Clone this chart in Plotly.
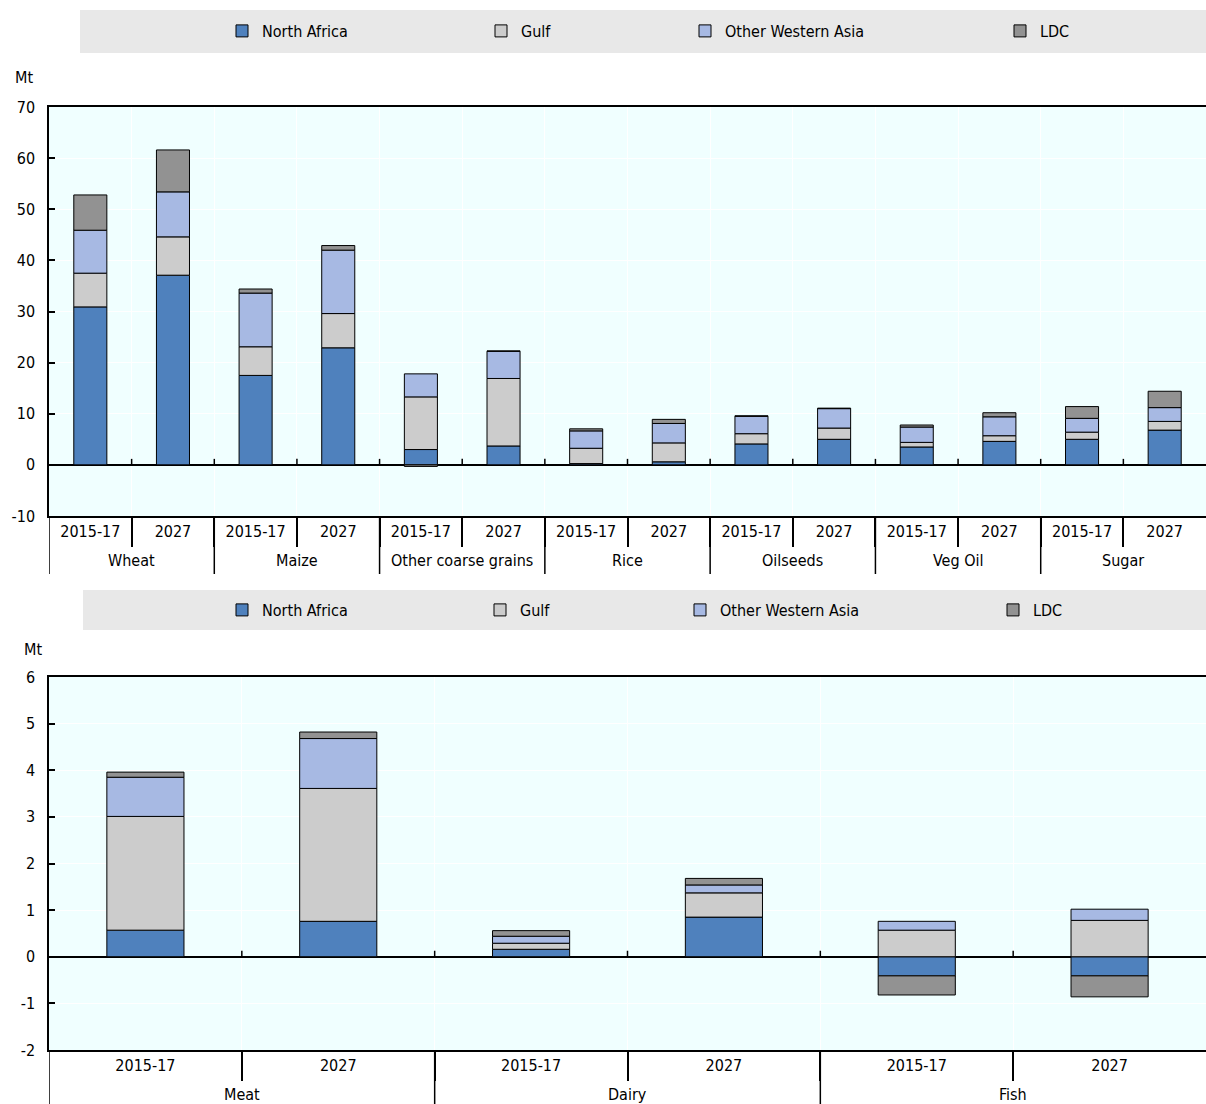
import plotly.graph_objects as go

# Categories
crops = ["Wheat", "Maize", "Other coarse grains", "Rice", "Oilseeds", "Veg Oil", "Sugar"]
animal_products = ["Meat", "Dairy", "Fish"]
periods = ["2015-17", "2027"]
regions = ["North Africa", "Gulf", "Other Western Asia", "LDC"]

# Net imports of crops, Mt (crop by crop: 2015-17, 2027)
crop_north_africa = [30.9, 37.1, 17.5, 22.9, 3.0, 3.7, 0.25, 0.6, 4.1, 5.0, 3.5, 4.6, 5.0, 6.8]
crop_gulf = [6.6, 7.5, 5.6, 6.7, 10.3, 13.2, 3.0, 3.7, 2.0, 2.2, 0.9, 1.1, 1.4, 1.7]
crop_other_wa = [8.4, 8.8, 10.5, 12.4, 4.5, 5.3, 3.4, 3.8, 3.4, 3.8, 3.0, 3.7, 2.7, 2.7]
crop_ldc = [6.9, 8.2, 0.8, 0.9, -0.3, 0.1, 0.4, 0.8, 0.1, 0.1, 0.4, 0.8, 2.3, 3.2]

# Net imports of animal products, Mt
animal_north_africa = [0.57, 0.76, 0.16, 0.85, -0.41, -0.41]
animal_gulf = [2.44, 2.85, 0.13, 0.52, 0.57, 0.78]
animal_other_wa = [0.84, 1.07, 0.15, 0.17, 0.19, 0.24]
animal_ldc = [0.11, 0.14, 0.12, 0.14, -0.41, -0.45]

# Axis ticks
crop_ticks = [-10, 0, 10, 20, 30, 40, 50, 60, 70]
animal_ticks = [-2, -1, 0, 1, 2, 3, 4, 5, 6]

colors = ["#4F81BD", "#CCCCCC", "#A7B9E3", "#929292"]
FONT = "DejaVu Sans Condensed, Liberation Sans Narrow, sans-serif"
FS = 16

W, H = 1206, 1104
L_MARGIN = 49


def py(px):
    """pixel row -> paper y"""
    return (H - px) / H


def pxx(px):
    """pixel column -> paper x"""
    return (px - L_MARGIN) / (W - L_MARGIN)


top_dom = [py(516), py(107)]
bot_dom = [py(1050), py(677)]

fig = go.Figure()

panels = [
    dict(groups=crops, series=[crop_north_africa, crop_gulf, crop_other_wa, crop_ldc],
         xa="x", ya="y", legends=["legend", "legend2", "legend3", "legend4"],
         dom=top_dom, yrange=[-10, 70], yticks=crop_ticks),
    dict(groups=animal_products, series=[animal_north_africa, animal_gulf, animal_other_wa, animal_ldc],
         xa="x2", ya="y2", legends=["legend5", "legend6", "legend7", "legend8"],
         dom=bot_dom, yrange=[-2, 6], yticks=animal_ticks),
]

shapes = []
annotations = []
layout_axes = {}

for p in panels:
    n = len(p["groups"]) * len(periods)
    xpos = list(range(n))
    labels = [per for _ in p["groups"] for per in periods]
    for i, (name, vals) in enumerate(zip(regions, p["series"])):
        fig.add_trace(go.Bar(
            x=xpos, y=vals, name=name, xaxis=p["xa"], yaxis=p["ya"], width=0.4,
            marker=dict(color=colors[i], line=dict(color="black", width=1)),
            legend=p["legends"][i], showlegend=True,
        ))

    boundaries = [k - 0.5 for k in range(1, n)]
    xkey = "xaxis" if p["xa"] == "x" else "xaxis2"
    ykey = "yaxis" if p["ya"] == "y" else "yaxis2"
    layout_axes[xkey] = dict(
        anchor=p["ya"], domain=[0, 1], range=[-0.5, n - 0.5], fixedrange=True,
        showline=True, linecolor="black", linewidth=1.5, mirror=True,
        tickvals=xpos, ticktext=labels, ticks="", showgrid=False, zeroline=False,
        tickfont=dict(family=FONT, size=FS, color="black"), ticklabelstandoff=0,
        minor=dict(tickvals=boundaries, ticks="outside", ticklen=29, tickcolor="black",
                   tickwidth=1.5, showgrid=True, gridcolor="white", gridwidth=1),
    )
    layout_axes[ykey] = dict(
        anchor=p["xa"], domain=p["dom"], range=p["yrange"], fixedrange=True,
        tickvals=p["yticks"], ticktext=[str(v) for v in p["yticks"]],
        showline=True, linecolor="black", linewidth=1.5,
        ticks="inside", ticklen=6, tickcolor="black", tickwidth=1.5,
        showgrid=True, gridcolor="white", gridwidth=1,
        zeroline=True, zerolinecolor="black", zerolinewidth=1.5,
        tickfont=dict(family=FONT, size=FS, color="black"), ticklabelstandoff=9,
    )

    # small tick marks along the zero line at every category boundary
    for b in boundaries:
        shapes.append(dict(type="line", xref=p["xa"], yref=p["ya"], x0=b, x1=b,
                           ysizemode="pixel", yanchor=0, y0=0, y1=6,
                           line=dict(color="black", width=1.5)))
    # group dividers below the axis, and group names
    for g, name in enumerate(p["groups"]):
        left = g * len(periods) - 0.5
        shapes.append(dict(type="line", xref=p["xa"], yref="paper", x0=left, x1=left,
                           ysizemode="pixel", yanchor=p["dom"][0], y0=0, y1=-58,
                           line=dict(color="black", width=1.5)))
        annotations.append(dict(text=name, xref=p["xa"], yref="paper",
                                x=left + len(periods) / 2, y=p["dom"][0], yshift=-44,
                                xanchor="center", yanchor="middle", showarrow=False,
                                font=dict(family=FONT, size=FS, color="black")))

fig.update_layout(
    width=W, height=H,
    margin=dict(l=L_MARGIN, r=0, t=0, b=0, autoexpand=False),
    paper_bgcolor="white", plot_bgcolor="#F0FFFF",
    barmode="relative",
    font=dict(family=FONT, size=FS, color="black"),
    **layout_axes,
)

# Legend bands
shapes = [
    dict(type="rect", xref="paper", yref="paper", x0=pxx(80), x1=1,
         y0=py(53), y1=py(10), fillcolor="#E8E8E8", line=dict(width=0), layer="below"),
    dict(type="rect", xref="paper", yref="paper", x0=pxx(83), x1=1,
         y0=py(630), y1=py(590), fillcolor="#E8E8E8", line=dict(width=0), layer="below"),
] + shapes
fig.update_layout(shapes=shapes)

# One legend per entry, spread across each band
legend_left_top = [222, 481, 685, 1000]
legend_left_bot = [222, 480, 680, 993]
leg = {}
for i in range(4):
    base = dict(orientation="h", xref="paper", yref="paper", xanchor="left", yanchor="middle",
                bgcolor="rgba(0,0,0,0)", font=dict(family=FONT, size=FS, color="black"),
                itemclick=False, itemdoubleclick=False)
    leg[panels[0]["legends"][i]] = dict(base, x=pxx(legend_left_top[i]), y=py(31))
    leg[panels[1]["legends"][i]] = dict(base, x=pxx(legend_left_bot[i]), y=py(610))
fig.update_layout(showlegend=True, **leg)

annotations += [
    dict(text="Mt", xref="paper", yref="paper", x=pxx(13), y=py(78),
         xanchor="left", yanchor="middle", showarrow=False,
         font=dict(family=FONT, size=FS, color="black")),
    dict(text="Mt", xref="paper", yref="paper", x=pxx(22), y=py(649),
         xanchor="left", yanchor="middle", showarrow=False,
         font=dict(family=FONT, size=FS, color="black")),
]
fig.update_layout(annotations=annotations)

fig.write_html("out.html")
